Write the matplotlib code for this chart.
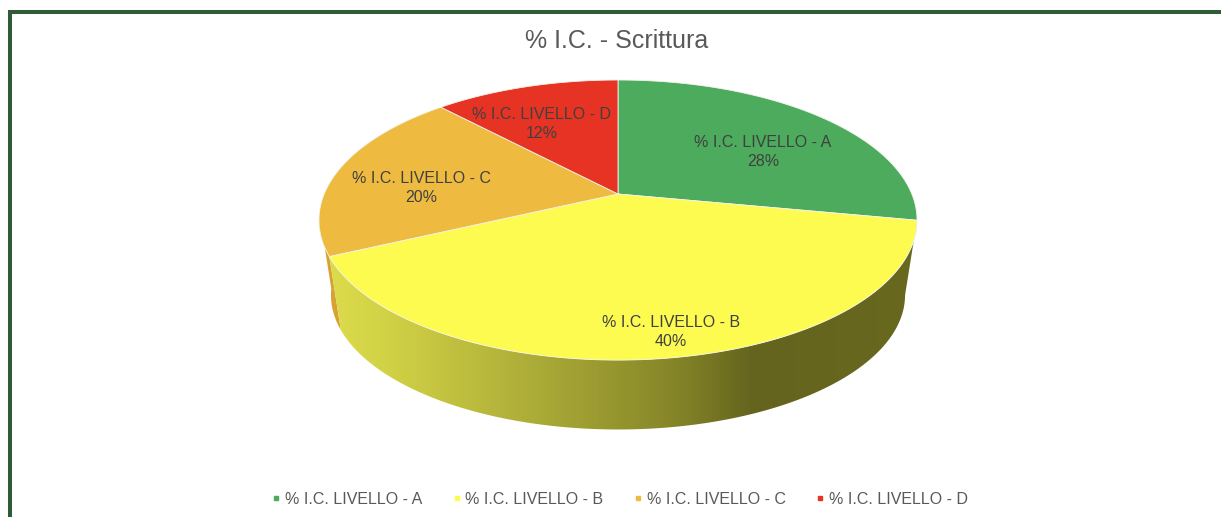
import numpy as np
import matplotlib
matplotlib.use('Agg')
import matplotlib.pyplot as plt
from matplotlib.colors import LinearSegmentedColormap
from matplotlib.lines import Line2D
from matplotlib.patches import Polygon

plt.rcParams['font.family'] = ['Liberation Sans', 'DejaVu Sans']

title = '% I.C. - Scrittura'
categories = ['% I.C. LIVELLO - A', '% I.C. LIVELLO - B', '% I.C. LIVELLO - C', '% I.C. LIVELLO - D']
values = [28, 40, 20, 12]
colors = ['#4CAB5C', '#FDFB50', '#EEBB40', '#E73323']

# centre des etiquettes, en pixels
label_pos = [(763, 152), (671, 332), (421, 188), (542, 124)]

# geometrie de la tarte en perspective
CX, CY = 618, 220
APEX_Y = 194
A, B, K = 293.8, 135.2, 0.186
DEPTH, SHRINK = 75, 0.96


def top_rim(deg):
    t = np.radians(deg)
    u, v = np.sin(t), np.cos(t)
    w = 1 + K * v
    return CX + A * u / w, APEX_Y - B * v / w


def bottom_rim(deg):
    x, y = top_rim(deg)
    return CX + (x - CX) * SHRINK, CY + DEPTH + (y - CY) * SHRINK


def side_poly(a0, a1):
    deg = np.linspace(a0, a1, 200)
    xt, yt = top_rim(deg)
    xb, yb = bottom_rim(deg[::-1])
    return np.column_stack([np.r_[xt, xb], np.r_[yt, yb]])


fig = plt.figure(figsize=(12.21, 5.17), dpi=100)
ax = fig.add_axes([0, 0, 1, 1])

# cadre vert
ax.plot([9.5, 9.5, 1240], [540, 11.5, 11.5], color='#2F5C36', lw=2.9, solid_joinstyle='miter', zorder=1)

ax.text(617, 41, title, ha='center', va='center', fontsize=18, color='#595959')

edges = np.r_[0, np.cumsum(values)] * 360.0 / sum(values)

# flanc orange, visible a gauche
ax.add_patch(Polygon(side_poly(edges[2], 262), closed=True, fc='#D8A233', ec='none', zorder=2))

# flanc jaune avec degrade horizontal
side = Polygon(side_poly(edges[1], edges[2]), closed=True, fc='none', ec='none', zorder=3)
ax.add_patch(side)
shade = LinearSegmentedColormap.from_list('side', [
    (0.0, '#DCDC4C'), (0.10, '#D2D246'), (0.35, '#ACAC38'),
    (0.58, '#878729'), (0.72, '#64641E'), (1.0, '#68681F')])
grad = np.linspace(0, 1, 512)[None, :]
im = ax.imshow(grad, cmap=shade, extent=(325, 920, 440, 200), aspect='auto', zorder=3)
im.set_clip_path(side)

# faces du dessus
for i in range(len(values)):
    deg = np.linspace(edges[i], edges[i + 1], 200)
    x, y = top_rim(deg)
    pts = np.column_stack([np.r_[CX, x], np.r_[APEX_Y, y]])
    ax.add_patch(Polygon(pts, closed=True, fc=colors[i], ec='#F4F4EC', lw=0.6, zorder=4))
    lx, ly = label_pos[i]
    ax.text(lx, ly, '%s\n%d%%' % (categories[i], values[i]), ha='center', va='center',
            fontsize=11.5, color='#404040', linespacing=1.27, zorder=5)

handles = [Line2D([], [], ls='none', marker='s', ms=3.2, color=c) for c in colors]
ax.legend(handles, categories, ncol=4, loc='center', bbox_to_anchor=(620 / 1221, 1 - 499.5 / 517),
          frameon=False, fontsize=11.5, labelcolor='#595959', handlelength=0.5, handletextpad=0.3,
          columnspacing=1.9, borderpad=0)

ax.set_xlim(0, 1221)
ax.set_ylim(517, 0)
ax.axis('off')

fig.savefig('out.png', dpi=100)
